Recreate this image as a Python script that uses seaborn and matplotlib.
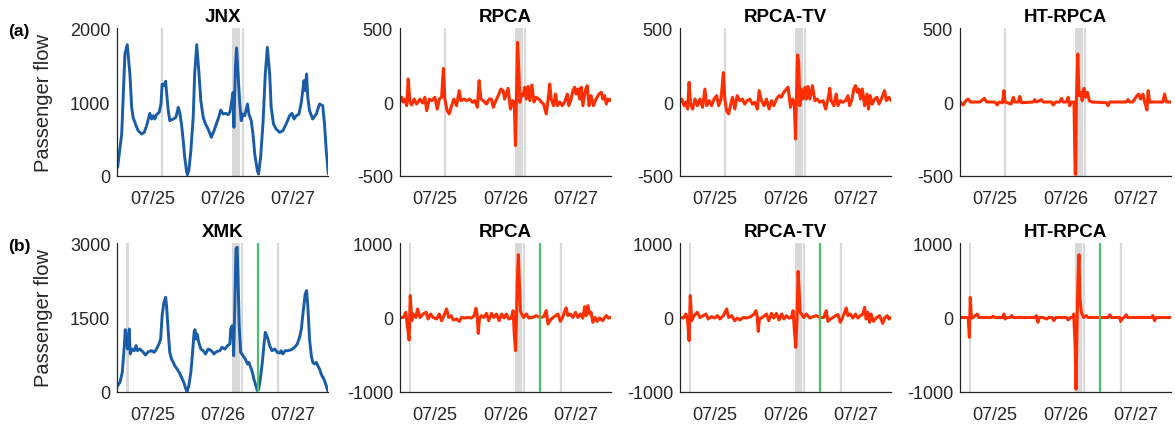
import numpy as np
import pandas as pd
import matplotlib
matplotlib.use("Agg")
import matplotlib.pyplot as plt
import seaborn as sns

# ---------------- data (hours since 07/24 12:00) ----------------
tick_hours = [12, 36, 60]
tick_labels = ["07/25", "07/26", "07/27"]

jnx_h = [0.1, 1.5, 2.6, 3.4, 4.3, 4.9, 5.4, 6.2, 7.1, 8.3, 9.2, 10.0, 11.1, 11.7, 12.3, 12.8, 13.4, 14.3, 14.9,
         15.3, 15.9, 16.5, 16.8, 17.4, 17.9, 19.1, 20.0, 20.8, 21.3, 21.9, 22.5, 23.0, 23.6, 23.9, 24.4, 25.1,
         25.9, 26.4, 27.1, 27.8, 28.5, 29.3, 30.1, 31.0, 32.1, 33.0, 33.8, 34.6, 35.3, 36.1, 37.0, 37.8, 38.4,
         38.9, 39.5, 39.8, 40.3, 40.7, 41.2, 41.8, 42.3, 42.9, 43.5, 44.4, 44.9, 45.7, 46.3, 46.9, 47.8, 48.2,
         48.9, 49.7, 50.5, 51.2, 52.0, 52.5, 53.3, 54.2, 55.4, 56.5, 57.6, 58.8, 59.6, 60.3, 61.1, 62.0, 62.8,
         63.7, 64.1, 64.6, 65.0, 65.6, 66.7, 67.9, 69.0, 70.1, 70.7, 71.3, 71.8, 72.0]
jnx_v = [113, 566, 1650, 1778, 1380, 928, 792, 701, 611, 566, 588, 679, 846, 769, 815, 769, 828, 860, 973,
         1244, 1222, 1281, 1131, 882, 747, 769, 792, 928, 860, 701, 475, 249, 68, 14, 68, 339,
         792, 1380, 1778, 1425, 1018, 792, 701, 633, 520, 611, 701, 792, 891, 837, 846, 828, 860,
         973, 1131, 656, 1470, 1733, 1380, 973, 747, 837, 815, 973, 837, 747, 566, 294, 68, 23,
         249, 701, 1380, 1742, 1380, 928, 701, 633, 588, 611, 701, 815, 846, 769, 815, 837, 996,
         1290, 1154, 1380, 1063, 882, 769, 837, 973, 950, 701, 339, 113, 23]

xmk_h = [0.1, 0.9, 1.7, 2.4, 2.7, 3.2, 3.5, 3.7, 4.1, 4.4, 5.1, 5.8, 6.4, 6.9, 7.7, 8.9, 9.6, 10.6, 11.7, 12.6,
         13.4, 14.2, 14.8, 15.3, 15.9, 16.5, 16.8, 17.4, 17.9, 18.5, 19.1, 19.6, 20.4, 21.1, 21.9, 22.7, 23.4,
         23.8, 24.4, 25.1, 25.6, 26.2, 26.5, 26.9, 27.2, 27.8, 28.5, 29.3, 30.1, 31.0, 32.1, 33.0, 33.8, 35.0,
         35.7, 36.7, 37.6, 38.4, 38.7, 39.2, 39.5, 39.7, 40.1, 40.5, 40.9, 41.2, 41.6, 42.1, 42.9, 43.7, 44.4,
         44.9, 45.5, 46.1, 46.6, 47.3, 47.8, 48.2, 48.8, 49.5, 50.0, 50.5, 51.0, 51.4, 52.0, 52.8, 53.7, 54.6,
         55.4, 55.9, 56.5, 57.3, 58.2, 59.4, 60.5, 61.4, 62.2, 62.8, 63.4, 64.1, 64.6, 65.0, 65.6, 66.2, 66.7,
         67.3, 67.9, 68.4, 69.0, 69.8, 70.5, 71.3, 71.8, 72.0]
xmk_v = [121, 189, 391, 930, 1254, 1065, 863, 1065, 1267, 762, 863, 829, 930, 829, 863, 796, 742, 809, 829, 796,
         863, 964, 1065, 1537, 1807, 1908, 1739, 1200, 796, 661, 593, 526, 458, 391, 290, 189, 54,
         0, 121, 391, 728, 1200, 1254, 1065, 1166, 998, 863, 829, 762, 863, 829, 762, 809, 829,
         897, 863, 930, 964, 1267, 1335, 1133, 728, 1739, 2886, 2919, 2279, 1335, 796, 728, 661, 560,
         593, 492, 391, 256, 121, 20, 40, 256, 593, 930, 1200, 1133, 1065, 930, 829, 863, 796,
         782, 829, 762, 829, 829, 849, 897, 964, 1099, 1267, 1605, 1975, 2043, 1739, 1065, 728, 593,
         560, 593, 526, 458, 324, 256, 121, 20, 0]

jnx_rpca_h = [0.0, 0.6, 1.1, 1.7, 2.3, 2.8, 3.4, 4.0, 4.8, 5.7, 6.8, 7.7, 8.5, 9.1, 10.0, 10.8, 11.9, 12.7, 13.4,
              14.2, 14.8, 15.3, 16.1, 16.8, 17.6, 18.4, 19.3, 20.2, 20.8, 21.8, 22.7, 23.8, 24.7, 25.5, 26.4,
              27.0, 27.6, 28.4, 29.5, 30.4, 31.2, 31.8, 32.7, 33.5, 34.4, 35.2, 35.7, 36.9, 37.7, 38.4, 39.0,
              39.4, 39.7, 40.1, 40.5, 40.9, 41.4, 42.0, 42.6, 43.1, 43.7, 44.3, 45.0, 45.7, 46.5, 47.4, 48.2,
              49.0, 49.9, 50.5, 51.1, 51.6, 52.4, 53.1, 53.7, 54.5, 55.4, 56.2, 57.1, 57.6, 58.4, 59.0, 59.6,
              60.1, 60.7, 61.3, 61.8, 62.4, 63.2, 63.9, 64.5, 65.2, 66.0, 66.9, 67.9, 68.7, 69.2, 69.8, 70.4,
              70.9, 71.5, 72.0]
jnx_rpca_v = [0, 32, 0, 20, -25, 156, 0, -20, 20, -14, 20, -7, 32, -59, 20, 9, 32, -48, 20,
              32, 228, 20, -59, -81, -25, 20, -25, 77, 9, 20, 9, 20, -2, 9, -36,
              145, 20, 9, -14, 20, 20, -36, 9, 43, 88, 77, 20, 93, -48, 9, -2,
              -296, 0, 405, 247, -2, 54, 43, 100, 20, 106, 9, 115, 0, 32, 20, 0,
              -14, -81, 9, 122, 20, -25, 54, -25, 0, -25, 0, 54, -25, 20, 77, 100,
              54, 88, 20, 100, -25, 77, 111, -25, 43, -25, 20, 54, 66, 20, 43, -14,
              20, 9, 20]

jnx_tv_h = [0.0, 0.6, 1.4, 2.0, 2.6, 3.1, 3.6, 4.3, 5.1, 5.9, 6.8, 7.7, 8.5, 9.1, 10.0, 10.8, 11.6, 12.5, 13.2,
            14.0, 14.8, 15.3, 15.9, 16.6, 17.2, 17.9, 18.7, 19.5, 20.4, 21.3, 22.1, 22.9, 23.8, 24.7, 25.5,
            26.4, 27.0, 27.8, 28.7, 29.5, 30.4, 31.2, 32.0, 32.9, 33.8, 34.6, 35.4, 36.3, 36.9, 37.7, 38.4,
            39.0, 39.4, 39.7, 40.1, 40.5, 40.9, 41.4, 42.0, 42.6, 43.1, 43.7, 44.3, 45.2, 46.0, 46.8, 47.7,
            48.8, 49.7, 50.5, 51.1, 51.6, 52.5, 53.3, 53.9, 54.7, 55.6, 56.5, 57.3, 57.9, 58.7, 59.3, 59.9,
            60.5, 61.0, 61.6, 62.2, 63.0, 63.8, 64.3, 64.9, 65.6, 66.4, 67.2, 67.9, 68.7, 69.8, 70.4, 71.3,
            72.0]
jnx_tv_v = [0, 20, -25, 0, -48, 133, -14, -48, 20, -25, 20, -36, 88, -25, 9, -25, 20, 43, -25,
            20, 200, 20, -59, -81, -25, 32, -48, 43, 9, 20, -14, 9, 20, -14, -2,
            -48, 77, 9, -25, 20, -48, 9, -25, 20, 43, 32, 66, 88, 100, -36, 20,
            -2, -251, 0, 320, 269, -25, 88, 20, 100, 20, 106, 20, 111, 9, 20, -2,
            9, -48, 20, 93, 9, -25, 54, -25, 9, -2, 9, 43, -25, 20, 88, 111,
            66, 88, 20, 88, -25, 54, -48, 43, -14, 20, 32, -14, 20, 77, 9, 32,
            9]

jnx_ht_h = [0.0, 1.1, 2.0, 2.8, 3.6, 6.8, 8.3, 9.1, 11.9, 12.7, 13.4, 14.5, 15.0, 15.4, 17.4, 18.2, 18.7, 19.9,
            20.4, 21.0, 25.0, 25.5, 26.1, 27.8, 28.4, 31.2, 31.8, 32.7, 34.0, 34.6, 35.2, 36.3, 36.9, 37.4, 38.0,
            38.9, 39.3, 39.5, 39.7, 40.2, 40.6, 41.2, 41.7, 42.3, 42.9, 43.5, 44.1, 45.0, 50.0, 50.5, 51.1,
            56.7, 57.3, 57.9, 59.0, 59.6, 60.4, 61.0, 61.6, 62.4, 63.0, 63.8, 64.2, 64.7, 69.2, 69.8, 70.4, 72.0]
jnx_ht_v = [0, -20, 9, 20, 0, 0, 25, 0, 0, -20, 0, -5, 77, 0, -14, 32, 0, 0,
            38, -5, 0, 16, 0, 16, 0, 0, -20, 0, 0, 25, 0, 0, 32, -25, 0,
            0, -490, -490, 0, 326, 43, 66, 9, 93, 32, 66, 9, 0, -5, -25, 0,
            0, 16, 0, 0, 20, 43, 54, 20, 54, 0, -54, 77, 0, 0, 54, 0, 0]

xmk_rpca_h = [0.0, 1.1, 2.0, 2.5, 3.1, 3.5, 4.0, 4.5, 5.4, 6.0, 6.8, 7.9, 8.9, 9.6, 10.4, 11.3, 12.5, 13.4, 14.2,
              15.0, 15.9, 16.6, 17.4, 18.2, 19.3, 20.2, 21.0, 22.1, 23.3, 24.4, 25.3, 25.9, 26.3, 26.7, 27.1,
              27.8, 28.6, 29.5, 30.3, 31.2, 32.0, 32.9, 33.8, 34.7, 35.5, 36.3, 37.1, 38.0, 38.6, 39.0, 39.4,
              39.7, 40.1, 40.4, 40.7, 41.1, 41.5, 42.2, 43.1, 44.0, 45.2, 46.5, 47.7, 49.0, 49.9, 50.5, 51.3,
              52.2, 53.1, 53.9, 54.7, 55.4, 56.2, 56.7, 57.3, 58.1, 59.0, 59.9, 60.7, 61.5, 62.4, 63.0, 63.5,
              64.1, 64.7, 65.2, 65.8, 66.6, 67.3, 68.1, 69.2, 69.8, 70.4, 71.1, 72.0]
xmk_rpca_v = [0, 0, 70, -110, -303, 294, -43, 47, 0, 115, 0, 47, 70, -20, 47, 0, -20, 47, -43,
              25, 115, 0, 25, -34, -20, -52, 0, -7, 0, -7, 25, 124, 47, -214, -20,
              25, 0, 56, -43, 56, 0, 47, -43, 47, -7, 47, -20, -7, 92, -222, -447,
              -88, 587, 847, 497, 92, 47, 0, 47, -7, 0, 25, 0, 11, 92, -88, -34,
              0, 25, 47, -52, -7, 83, 128, 25, 47, 0, 70, 0, 47, -7, 146, 25,
              160, 47, 70, -65, 0, -52, -7, -43, 0, 25, -7, 0]

xmk_tv_h = [0.0, 1.1, 2.0, 2.6, 3.1, 3.5, 4.0, 4.8, 5.9, 6.8, 7.9, 8.9, 9.6, 10.8, 11.9, 12.8, 13.6, 14.8, 15.9,
            16.6, 17.6, 18.7, 19.5, 20.4, 21.6, 22.7, 24.1, 25.3, 25.9, 26.3, 26.7, 27.1, 28.1, 29.5, 30.3,
            31.2, 32.0, 32.9, 33.8, 34.7, 35.5, 36.3, 37.1, 38.0, 38.6, 39.0, 39.5, 39.9, 40.3, 40.6, 41.0,
            41.5, 42.2, 43.1, 44.3, 45.4, 46.5, 47.7, 49.0, 49.9, 50.5, 51.3, 52.2, 53.1, 53.9, 54.7, 55.4,
            56.2, 56.7, 57.3, 58.1, 59.0, 59.9, 60.7, 61.5, 62.4, 63.0, 63.5, 64.1, 64.7, 65.2, 66.0, 66.9,
            68.1, 69.2, 69.8, 70.7, 71.3, 72.0]
xmk_tv_v = [0, -7, 47, -43, -312, 294, -43, 25, 70, 0, 25, 47, -20, 11, -7, 25, -20, 25, 115,
            0, 25, -43, -7, -34, 0, -7, 11, 47, 92, 25, -187, -20, 0, 47, -43,
            56, -7, 56, -34, 47, -20, 25, -7, 0, 92, -155, -402, -43, 622, 407, 70,
            47, 0, 47, -7, 11, 25, 0, 0, 92, -52, -20, 0, 25, 38, -65, -7,
            70, 128, 25, 47, -7, 47, -7, 25, 47, 137, -20, 70, -65, 47, -52, -7,
            25, -79, -7, 25, -20, 0]

xmk_ht_h = [0.0, 2.3, 2.8, 3.2, 3.5, 3.9, 4.5, 5.9, 6.4, 10.8, 11.3, 11.9, 14.5, 15.0, 15.4, 15.9, 17.0, 17.6,
            18.2, 25.5, 26.1, 26.6, 27.0, 28.4, 29.5, 30.4, 31.5, 32.0, 32.7, 36.3, 36.9, 37.7, 38.4, 38.8,
            39.3, 39.6, 39.9, 40.3, 40.6, 40.9, 41.4, 42.2, 43.1, 43.7, 50.5, 51.1, 51.6, 54.5, 54.8, 55.3,
            56.2, 56.7, 57.3, 65.2, 65.8, 66.4, 66.9, 72.0]
xmk_ht_v = [0, 0, -7, -267, 270, -7, 0, 47, 0, 0, 18, 0, 0, 47, -20, 0, 0, 25,
            0, 0, 25, -65, 0, 0, -20, 0, 0, -43, 0, 0, -34, 0, 0, 47,
            -402, -966, -178, 587, 847, 272, 70, 0, 25, 0, 0, 36, 0, 0, -52, -20,
            11, 36, 0, 0, 25, -43, 0, 0]

titles = ["JNX", "RPCA", "RPCA-TV", "HT-RPCA", "XMK", "RPCA", "RPCA-TV", "HT-RPCA"]
row_labels = ["(a)", "(b)"]
yticks_rows = [[[0, 1000, 2000], [-500, 0, 500]], [[0, 1500, 3000], [-1000, 0, 1000]]]

# anomaly markers (hours)
row_a_lines = [15.2, 42.8]
row_a_bands = [(39.3, 41.9)]
row_b_lines = [42.4, 54.9]
row_b_bands = [(3.0, 3.9), (39.3, 41.8)]
row_b_green = [47.9]

# ---------------- styling ----------------
sns.set_style("white")
plt.rcParams["font.family"] = ["Liberation Sans", "DejaVu Sans"]
BLUE = "#1a5da6"
RED = "#ff2e00"
GRAY = "#d9d9d9"
GREEN = "#4cbf6c"
AXC = "#262626"

fig = plt.figure(figsize=(11.75, 4.31), dpi=100)
lefts = [117.3, 400, 680, 960]
W = 211
rows_px = [(29.3, 176.7), (244.3, 392.7)]

series = [
    [(jnx_h, jnx_v, BLUE), (jnx_rpca_h, jnx_rpca_v, RED), (jnx_tv_h, jnx_tv_v, RED), (jnx_ht_h, jnx_ht_v, RED)],
    [(xmk_h, xmk_v, BLUE), (xmk_rpca_h, xmk_rpca_v, RED), (xmk_tv_h, xmk_tv_v, RED), (xmk_ht_h, xmk_ht_v, RED)],
]

for r in range(2):
    top, bot = rows_px[r]
    for c in range(4):
        ax = fig.add_axes([lefts[c] / 1175, 1 - bot / 431, W / 1175, (bot - top) / 431])
        if r == 0:
            for x in row_a_lines:
                ax.axvline(x, color=GRAY, lw=1.6, zorder=1)
            for a, b in row_a_bands:
                ax.axvspan(a, b, color=GRAY, lw=0, zorder=1)
        else:
            for x in row_b_lines:
                ax.axvline(x, color=GRAY, lw=1.6, zorder=1)
            for a, b in row_b_bands:
                ax.axvspan(a, b, color=GRAY, lw=0, zorder=1)
            for x in row_b_green:
                ax.axvline(x, color=GREEN, lw=1.6, zorder=3)
        h, v, col = series[r][c]
        df = pd.DataFrame({"hour": h, "value": v})
        sns.lineplot(data=df, x="hour", y="value", ax=ax, color=col,
                     lw=2.1 if c == 0 else 2.2, estimator=None, zorder=2)
        yt = yticks_rows[r][0 if c == 0 else 1]
        ax.set_ylim(yt[0], yt[-1])
        ax.set_yticks(yt)
        ax.set_yticklabels([str(t) for t in yt])
        ax.set_xlim(0, 72)
        ax.set_xticks(tick_hours)
        ax.set_xticklabels(tick_labels)
        ax.set_xlabel("")
        if c == 0:
            ax.set_ylabel("Passenger flow", fontsize=14.5, color=AXC)
            ax.yaxis.set_label_coords(-0.305, 0.5)
        else:
            ax.set_ylabel("")
        ax.set_title(titles[r * 4 + c], fontsize=13.5, fontweight="bold", pad=5, color="black")
        for s in ["top", "right"]:
            ax.spines[s].set_visible(False)
        for s in ["left", "bottom"]:
            ax.spines[s].set_color(AXC)
            ax.spines[s].set_linewidth(0.9)
        ax.tick_params(axis="both", direction="in", length=4, width=0.8, colors=AXC,
                       labelsize=13, labelcolor=AXC)
        ax.tick_params(axis="x", pad=10)
        ax.tick_params(axis="y", pad=5)
    fig.text(8 / 1175, 1 - (top + 2) / 431, row_labels[r], fontsize=12.5, fontweight="bold",
             va="center", ha="left", color="black")

fig.savefig("out.png", dpi=100)
